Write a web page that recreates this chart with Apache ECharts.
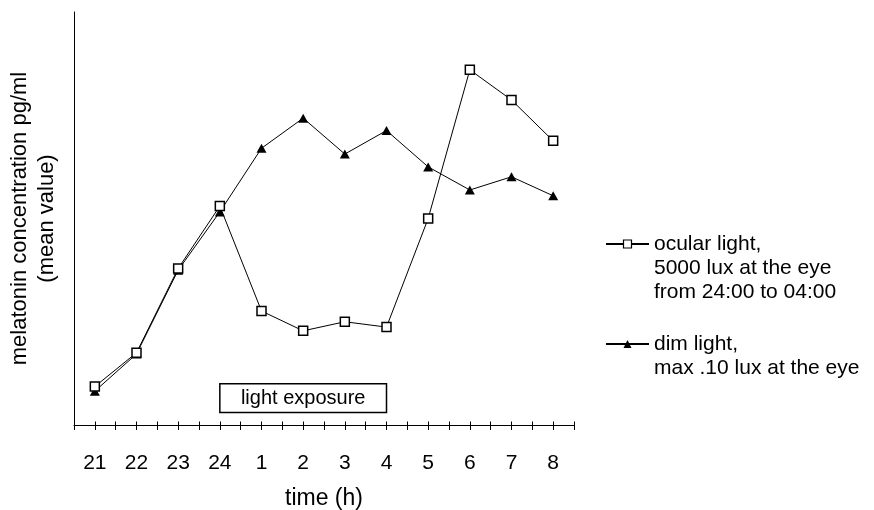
<!DOCTYPE html>
<html>
<head>
<meta charset="utf-8">
<script src="https://cdn.jsdelivr.net/npm/echarts@6/dist/echarts.min.js"></script>
<style>
  html, body { margin: 0; padding: 0; background: #fff; }
  #chart { width: 874px; height: 510px; }
</style>
</head>
<body>
<div id="chart"></div>
<script>
// Hour of the night (21:00 through 08:00)
const categories = ['21', '22', '23', '24', '1', '2', '3', '4', '5', '6', '7', '8'];

// Mean melatonin concentration (relative units)
const ocularLight = [9.3, 17.5, 37.9, 53.0, 27.6, 22.8, 25.0, 23.7, 50.0, 86.0, 78.7, 68.8];
const dimLight    = [8.2, 17.2, 37.5, 51.6, 67.0, 74.3, 65.6, 71.3, 62.5, 56.9, 60.1, 55.5];

// Legend wording
const ocularLegend = ['ocular light,', '5000 lux at the eye', 'from 24:00 to 04:00'];
const dimLegend    = ['dim light,', 'max .10 lux at the eye'];

// Period of bright light exposure
const exposureFrom = '24';
const exposureTo   = '4';
const exposureText = 'light exposure';

const FONT = 'Liberation Sans, Arial, sans-serif';

const toPoints = arr => arr.map((v, i) => [i, v]);

const gridRect = { left: 74, right: 300, top: 12, bottom: 85, containLabel: false, outerBoundsMode: 'none' };

const chart = echarts.init(document.getElementById('chart'), null, { renderer: 'canvas' });

chart.setOption({
  backgroundColor: '#ffffff',
  animation: false,
  grid: [
    Object.assign({}, gridRect),
    Object.assign({}, gridRect)
  ],
  xAxis: [
    {
      type: 'value',
      gridIndex: 0,
      min: -0.5,
      max: 11.5,
      interval: 0.5,
      name: 'time (h)',
      nameLocation: 'middle',
      nameGap: 62,
      nameTextStyle: { color: '#000', fontSize: 23, fontFamily: FONT },
      axisLine: { show: true, onZero: false, lineStyle: { color: '#000', width: 1 } },
      axisTick: { show: true, length: 5, lineStyle: { color: '#000', width: 1 } },
      axisLabel: {
        color: '#000',
        fontSize: 21,
        fontFamily: FONT,
        margin: 28,
        formatter: v => (Number.isInteger(v) && categories[v] !== undefined) ? categories[v] : ''
      },
      splitLine: { show: false }
    },
    {
      // upper half of the crossing tick marks
      type: 'value',
      gridIndex: 1,
      min: -0.5,
      max: 11.5,
      interval: 0.5,
      axisLine: { show: false, onZero: false },
      axisTick: { show: true, inside: true, length: 3.5, lineStyle: { color: '#000', width: 1 } },
      axisLabel: { show: false },
      splitLine: { show: false }
    }
  ],
  yAxis: [
    {
      type: 'value',
      gridIndex: 0,
      min: 0,
      max: 100,
      name: 'melatonin concentration pg/ml\n(mean value)',
      nameLocation: 'middle',
      nameGap: 14,
      nameTextStyle: { color: '#000', fontSize: 22, lineHeight: 27, fontFamily: FONT },
      axisLine: { show: true, onZero: false, lineStyle: { color: '#000', width: 1 } },
      axisTick: { show: false },
      axisLabel: { show: false },
      splitLine: { show: false }
    },
    {
      type: 'value',
      gridIndex: 1,
      min: 0,
      max: 100,
      show: false
    }
  ],
  legend: {
    orient: 'vertical',
    left: 605,
    top: 184,
    padding: 0,
    itemGap: 4,
    itemWidth: 43,
    itemHeight: 10,
    selectedMode: false,
    textStyle: { color: '#000', fontSize: 21, lineHeight: 24, fontFamily: FONT },
    data: [
      { name: ocularLegend[0], itemStyle: { color: '#fff', borderColor: '#000', borderWidth: 1.2 } },
      { name: dimLegend[0], itemStyle: { color: '#000', borderWidth: 0 } }
    ],
    formatter: name => {
      // keep the icon level with the first line of each entry
      if (name === ocularLegend[0]) return '\n\n' + ocularLegend.join('\n');
      return '\n' + dimLegend.join('\n');
    }
  },
  series: [
    {
      name: dimLegend[0],
      type: 'line',
      xAxisIndex: 0,
      yAxisIndex: 0,
      data: toPoints(dimLight),
      symbol: 'triangle',
      symbolSize: [10, 9],
      showAllSymbol: true,
      lineStyle: { color: '#000', width: 1 },
      itemStyle: { color: '#000', borderWidth: 0 },
      z: 3
    },
    {
      name: ocularLegend[0],
      type: 'line',
      xAxisIndex: 0,
      yAxisIndex: 0,
      data: toPoints(ocularLight),
      symbol: 'rect',
      symbolSize: 9,
      showAllSymbol: true,
      lineStyle: { color: '#000', width: 1 },
      itemStyle: { color: '#fff', borderColor: '#000', borderWidth: 1.5 },
      z: 4,
      markArea: {
        silent: true,
        itemStyle: { color: '#fff', borderColor: '#000', borderWidth: 1.5 },
        label: {
          show: true,
          position: 'inside',
          color: '#000',
          fontSize: 20,
          fontFamily: FONT
        },
        data: [[
          { name: exposureText, xAxis: categories.indexOf(exposureFrom), yAxis: 3.0 },
          { xAxis: categories.indexOf(exposureTo), yAxis: 10.0 }
        ]]
      }
    }
  ]
});
</script>
</body>
</html>
